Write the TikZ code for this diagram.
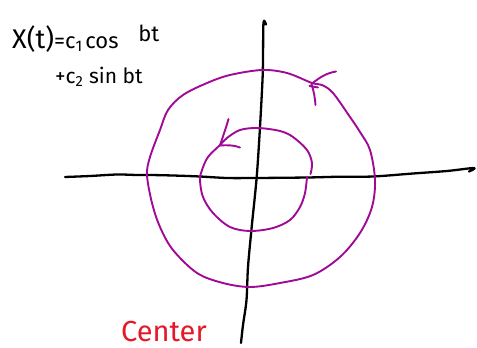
\documentclass[tikz,border=0pt]{standalone}
\usepackage{fontspec}
\setmainfont{Fira Sans}
\definecolor{pen}{RGB}{160,10,150}
\definecolor{redpen}{RGB}{228,24,40}
\tikzset{
  axisline/.style={line width=2.3pt, black, line cap=round, line join=round},
  curvepen/.style={line width=1.9pt, pen, line cap=round, line join=round},
  handtext/.style={inner sep=0pt, anchor=base west}
}
\begin{document}
\begin{tikzpicture}[x=1pt,y=-1pt]
\useasboundingbox (0,0) rectangle (477,348);
% horizontal axis
\draw[axisline] plot[smooth, tension=0.5] coordinates {(65,177) (90,176) (117,174.5) (137,175) (150,175) (173,175.5) (200,176.5) (227,178) (255,178) (307,177.5) (340,176.7) (373,176.5) (413,173.5) (447,171) (474,168) (469,171.5)};
% vertical axis
\draw[axisline] plot[smooth, tension=0.5] coordinates {(266,24.5) (263.5,22.5) (263,60) (262.5,80) (260,127) (256.7,177) (251.7,227) (248,267) (246.5,300) (243,325) (241,343)};
% outer closed curve
\draw[curvepen] plot[smooth cycle, tension=0.55] coordinates {(312,83) (287,73) (262,70) (230,75) (207,83) (183,95) (168,110) (160,130) (150,157) (147,175) (152,203) (160,227) (173,250) (197,273) (223,283) (250,287) (280,283) (313,275) (340,257) (360,233) (372,207) (375,180) (370,150) (360,132) (350,117) (333,93) (322,85)};
% outer arrow
\coordinate (otip) at (311.5,84);
\draw[curvepen] (otip) .. controls (320,77) and (327,73) .. (336,71.5);
\draw[curvepen] (otip) .. controls (314,92) and (315,98) .. (315.5,105);
\draw[curvepen] (309.5,86) -- (318,87.5);
% inner curve
\draw[curvepen] plot[smooth, tension=0.55] coordinates {(310.5,174) (312,163) (307,150) (293,137) (280,131) (258,128) (240,130) (227,138) (220,145) (208,157) (202,170) (200,180) (203,197) (213,213) (230,227) (250,231) (273,228) (290,220) (300,207) (305,193) (307,177)};
% inner arrow
\coordinate (itip) at (220,145.5);
\draw[curvepen] (itip) .. controls (223,136) and (226,128) .. (228.5,119);
\draw[curvepen] (itip) .. controls (227,145) and (234,145) .. (240,147.5);
% texts
\node[handtext, font=\fontsize{22}{24}\selectfont] (eq1) at (12,48) {{\fontsize{27}{30}\selectfont X(t)}=c\textsubscript{1}\hspace{0.12em}cos\hspace{0.9em}\raisebox{6pt}{bt}};
\node[handtext, font=\fontsize{21}{23}\selectfont] (eq2) at (55,83) {+c\textsubscript{2} sin bt};
\node[handtext, font=\fontsize{29}{31}\selectfont, text=redpen] (ctr) at (121,341) {Center};
\end{tikzpicture}
\end{document}
